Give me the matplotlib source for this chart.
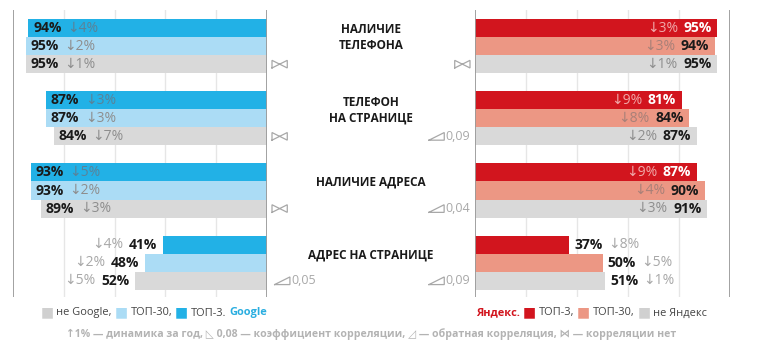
import matplotlib
matplotlib.use("Agg")
import matplotlib.pyplot as plt
from matplotlib import transforms
from matplotlib.offsetbox import DrawingArea, AnnotationBbox
from matplotlib.lines import Line2D

plt.rcParams['font.family'] = ['Open Sans', 'DejaVu Sans']

# ---------------- data ----------------
categories = ["НАЛИЧИЕ\nТЕЛЕФОНА", "ТЕЛЕФОН\nНА СТРАНИЦЕ", "НАЛИЧИЕ АДРЕСА", "АДРЕС НА СТРАНИЦЕ"]

google_top3 = [94, 87, 93, 41]
google_top3_chg = [-4, -3, -5, -4]
google_top30 = [95, 87, 93, 48]
google_top30_chg = [-2, -3, -2, -2]
not_google = [95, 84, 89, 52]
not_google_chg = [-1, -7, -3, -5]

yandex_top3 = [95, 81, 87, 37]
yandex_top3_chg = [-3, -9, -9, -8]
yandex_top30 = [94, 84, 90, 50]
yandex_top30_chg = [-3, -8, -4, -5]
not_yandex = [95, 87, 91, 51]
not_yandex_chg = [-1, -2, -3, -1]

google_corr = [None, None, None, 0.05]   # None -> no correlation
yandex_corr = [None, 0.09, 0.04, 0.09]

# ---------------- styles ----------------
C_G3 = '#22b1e6'
C_G30 = '#abdcf5'
C_GREY = '#d9d9d9'
C_Y3 = '#d2151e'
C_Y30 = '#ec9784'
C_DARK = '#1a1a1a'
C_CHG = '#8e8e8e'
C_NOTE = '#b3b3b3'
C_ICON = '#a8a8a8'

fig = plt.figure(figsize=(7.64, 3.51), dpi=100)
W, H = 764, 351
bottom = 1 - 297 / H
height = 287 / H
axL = fig.add_axes([13 / W, bottom, 254 / W, height])
axR = fig.add_axes([475 / W, bottom, 255 / W, height])

GROUP = 4.0
ylim = (13.9, -2.0)


def fmt_chg(v):
    return ("↓" if v < 0 else "↑") + f"{abs(v)}%"


def fmt_corr(v):
    return f"{v:.2f}".replace(".", ",")


for ax in (axL, axR):
    ax.set_ylim(*ylim)
    for s in ax.spines.values():
        s.set_visible(False)
    ax.set_xticks([])
    ax.set_yticks([])
    for g in (20, 40, 60, 80):
        ax.axvline(g, color='#e6e6e6', lw=1.0, zorder=0)
    ax.axvline(0, color='#9a9a9a', lw=1.3, zorder=3)
    ax.axvline(100, color='#9a9a9a', lw=1.3, zorder=3)

axL.set_xlim(100, 0)
axR.set_xlim(0, 100)

left_series = [
    (google_top3, google_top3_chg, C_G3, C_DARK, '#5a8298'),
    (google_top30, google_top30_chg, C_G30, C_DARK, C_CHG),
    (not_google, not_google_chg, C_GREY, C_DARK, C_CHG),
]
right_series = [
    (yandex_top3, yandex_top3_chg, C_Y3, 'white', '#f0a9a9'),
    (yandex_top30, yandex_top30_chg, C_Y30, C_DARK, '#a88078'),
    (not_yandex, not_yandex_chg, C_GREY, C_DARK, C_CHG),
]

VAL_FS = 10
CHG_FS = 10


def label(ax, v, y, c, vcol, ccol, direction):
    # direction +1: text grows to the right of the anchor, -1: to the left
    if direction > 0:
        t = ax.annotate(f"{v}%", xy=(v, y), xytext=(3.5, 0), textcoords='offset points',
                        ha='left', va='center', fontsize=VAL_FS, fontweight='bold',
                        color=vcol, zorder=5)
        ax.annotate(fmt_chg(c), xy=(1, 0.5), xycoords=t, xytext=(4, 0),
                    textcoords='offset points', ha='left', va='center',
                    fontsize=CHG_FS, color=ccol, zorder=5)
    else:
        t = ax.annotate(f"{v}%", xy=(v, y), xytext=(-4, 0), textcoords='offset points',
                        ha='right', va='center', fontsize=VAL_FS, fontweight='bold',
                        color=vcol, zorder=5)
        ax.annotate(fmt_chg(c), xy=(0, 0.5), xycoords=t, xytext=(-4, 0),
                    textcoords='offset points', ha='right', va='center',
                    fontsize=CHG_FS, color=ccol, zorder=5)


for side, ax, series in (("L", axL, left_series), ("R", axR, right_series)):
    for r, (vals, chgs, col, vcol, ccol) in enumerate(series):
        ys = [i * GROUP + r - 1 for i in range(len(vals))]
        ax.barh(ys, vals, height=1.0, color=col, zorder=2)
        for y, v, c in zip(ys, vals, chgs):
            inside = v >= 60
            if side == "L":
                if inside:
                    label(ax, v, y, c, vcol, ccol, +1)
                else:
                    label(ax, v, y, c, C_DARK, '#a8a8a8', -1)
            else:
                if inside:
                    label(ax, v, y, c, vcol, ccol, -1)
                else:
                    label(ax, v, y, c, C_DARK, '#a8a8a8', +1)


# correlation icons
IW, IH = 11, 5.5


def make_icon(kind):
    da = DrawingArea(IW, IH, 0, 0)
    if kind == 'inv':
        xs, ys = [0, IW, IW, 0], [0, 0, IH, 0]
    elif kind == 'dir':
        xs, ys = [0, 0, IW, 0], [IH, 0, 0, IH]
    else:
        xs, ys = [0, 0, IW, IW, 0], [0, IH, 0, IH, 0]
    da.add_artist(Line2D(xs, ys, color=C_ICON, lw=0.9, solid_joinstyle='miter'))
    return da


for i, (gc, yc) in enumerate(zip(google_corr, yandex_corr)):
    y = i * GROUP + 1
    # left panel (to the right of the 0 line)
    if gc is None:
        ab = AnnotationBbox(make_icon('none'), (0, y), xycoords='data', xybox=(3.6, 0),
                            boxcoords='offset points', box_alignment=(0, 0.5),
                            frameon=False, pad=0, annotation_clip=False)
        axL.add_artist(ab)
    else:
        ab = AnnotationBbox(make_icon('inv'), (0, y), xycoords='data', xybox=(5.5, 0),
                            boxcoords='offset points', box_alignment=(0, 0.5),
                            frameon=False, pad=0, annotation_clip=False)
        axL.add_artist(ab)
        axL.annotate(fmt_corr(gc), xy=(0, y), xytext=(5.5 + IW + 0.8, 0),
                     textcoords='offset points', ha='left', va='center',
                     fontsize=9, color=C_ICON, annotation_clip=False)
    # right panel (to the left of the 0 line)
    if yc is None:
        ab = AnnotationBbox(make_icon('none'), (0, y), xycoords='data', xybox=(-3.6, 0),
                            boxcoords='offset points', box_alignment=(1, 0.5),
                            frameon=False, pad=0, annotation_clip=False)
        axR.add_artist(ab)
    else:
        t = axR.annotate(fmt_corr(yc), xy=(0, y), xytext=(-3.6, 0),
                         textcoords='offset points', ha='right', va='center',
                         fontsize=9, color=C_ICON, annotation_clip=False)
        ab = AnnotationBbox(make_icon('inv'), (0, 0.5), xycoords=t, xybox=(-0.8, 0),
                            boxcoords='offset points', box_alignment=(1, 0.5),
                            frameon=False, pad=0, annotation_clip=False)
        axR.add_artist(ab)

# category labels in the centre
tr = transforms.blended_transform_factory(fig.transFigure, axL.transData)
for i, cat in enumerate(categories):
    fig.text(371 / W, i * GROUP - 0.45, cat, transform=tr, ha='center', va='center',
             fontsize=8.5, fontweight='bold', color='#1a1a1a', linespacing=1.3)

LEG_FS = 7.9
SQ_FS = 10


def build_chain(pieces, x, y, ha='left'):
    def fs(t):
        return SQ_FS if t == "■" else LEG_FS
    if ha == 'left':
        p0 = pieces[0]
        prev = fig.text(x, y, p0[0], ha='left', va='center', color=p0[1],
                        fontweight=p0[2], fontsize=fs(p0[0]))
        for text, color, weight, gap in pieces[1:]:
            prev = axL.annotate(text, xy=(1, 0.5), xycoords=prev, xytext=(gap, 0),
                                textcoords='offset points', ha='left', va='center',
                                color=color, fontweight=weight, fontsize=fs(text),
                                annotation_clip=False)
    else:
        last = pieces[-1]
        prev = fig.text(x, y, last[0], ha='right', va='center', color=last[1],
                        fontweight=last[2], fontsize=fs(last[0]))
        gap_next = last[3]
        for text, color, weight, gap in reversed(pieces[:-1]):
            prev = axL.annotate(text, xy=(0, 0.5), xycoords=prev, xytext=(-gap_next, 0),
                                textcoords='offset points', ha='right', va='center',
                                color=color, fontweight=weight, fontsize=fs(text),
                                annotation_clip=False)
            gap_next = gap


left_legend = [
    ("■", '#d0d0d0', 'normal', 0),
    ("не Google,", '#444444', 'normal', 1.8),
    ("■", C_G30, 'normal', 2.2),
    ("ТОП-30,", '#444444', 'normal', 1.8),
    ("■", C_G3, 'normal', 2.2),
    ("ТОП-3.", '#444444', 'normal', 1.8),
    ("Google", '#2aaee0', 'bold', 2.2),
]
right_legend = [
    ("Яндекс.", C_Y3, 'bold', 0),
    ("■", C_Y3, 'normal', 2.2),
    ("ТОП-3,", '#444444', 'normal', 1.8),
    ("■", C_Y30, 'normal', 2.2),
    ("ТОП-30,", '#444444', 'normal', 1.8),
    ("■", '#d0d0d0', 'normal', 2.2),
    ("не Яндекс", '#444444', 'normal', 1.8),
]
build_chain(left_legend, 267 / W, 1 - 313 / H, ha='right')
build_chain(right_legend, 476 / W, 1 - 313 / H, ha='left')

note = ("↑1% — динамика за год, ◺ 0,08 — коэффициент корреляции, "
        "◿ — обратная корреляция, ⋈ — корреляции нет")
fig.text(371 / W, 1 - 334 / H, note, ha='center', va='center', fontsize=7.6,
         fontweight='bold', color=C_NOTE)

fig.savefig("out.png", dpi=100)
